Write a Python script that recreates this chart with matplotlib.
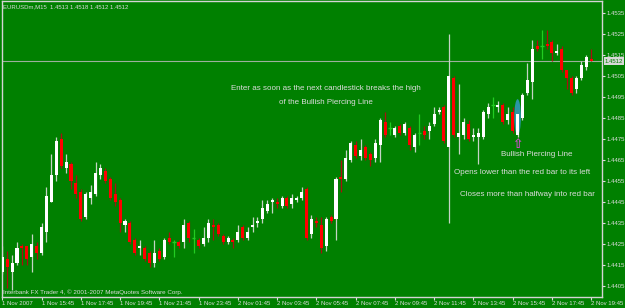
import matplotlib
matplotlib.use('Agg')
import matplotlib.pyplot as plt
from matplotlib.patches import Ellipse
from matplotlib.transforms import blended_transform_factory

plt.rcParams['font.family'] = ['Liberation Sans', 'DejaVu Sans']

# EURUSDm M15 bars, 1 Nov 13:45 .. 2 Nov 19:45
opens = [1.4412, 1.4418, 1.4412, 1.4416, 1.4424, 1.4424, 1.4419, 1.4424, 1.4421, 1.4431,
         1.4445, 1.4458, 1.4475, 1.4461, 1.4463, 1.4454, 1.4450, 1.4438, 1.4447, 1.4449,
         1.4458, 1.4460, 1.4456, 1.4449, 1.4446, 1.4434, 1.4435, 1.4427, 1.4423, 1.4423,
         1.4421, 1.4416, 1.4422, 1.4419, 1.4428, 1.4426, 1.4426, 1.4426, 1.4435, 1.4428,
         1.4427, 1.4425, 1.4428, 1.4434, 1.4434, 1.4429, 1.4426, 1.4427, 1.4427, 1.4433,
         1.4428, 1.4433, 1.4435, 1.4437, 1.4441, 1.4445, 1.4445, 1.4443, 1.4447, 1.4444,
         1.4446, 1.4447, 1.4451, 1.4430, 1.4436, 1.4434, 1.4424, 1.4438, 1.4437, 1.4457,
         1.4456, 1.4465, 1.4472, 1.4467, 1.4471, 1.4468, 1.4466, 1.4472, 1.4483, 1.4480,
         1.4477, 1.4481, 1.4478, 1.4480, 1.4471, 1.4478, 1.4479, 1.4479, 1.4482, 1.4488,
         1.4490, 1.4471, 1.4504, 1.4476, 1.4477, 1.4482, 1.4476, 1.4476, 1.4476, 1.4487,
         1.4491, 1.4490, 1.4491, 1.4484, 1.4488, 1.4477, 1.4485, 1.4497, 1.4502, 1.4519,
         1.4519, 1.4520, 1.4521, 1.4516, 1.4518, 1.4508, 1.4504, 1.4499, 1.4504, 1.4509,
         1.4513]
highs = [1.4424, 1.4422, 1.4420, 1.4426, 1.4425, 1.4424, 1.4430, 1.4426, 1.4435, 1.4452,
         1.4468, 1.4476, 1.4478, 1.4468, 1.4464, 1.4458, 1.4451, 1.4450, 1.4453, 1.4464,
         1.4463, 1.4461, 1.4457, 1.4454, 1.4447, 1.4437, 1.4436, 1.4428, 1.4427, 1.4424,
         1.4422, 1.4427, 1.4423, 1.4428, 1.4431, 1.4427, 1.4427, 1.4437, 1.4436, 1.4432,
         1.4428, 1.4433, 1.4437, 1.4437, 1.4435, 1.4430, 1.4429, 1.4428, 1.4434, 1.4434,
         1.4433, 1.4438, 1.4438, 1.4446, 1.4446, 1.4447, 1.4447, 1.4448, 1.4448, 1.4449,
         1.4448, 1.4452, 1.4452, 1.4439, 1.4438, 1.4438, 1.4438, 1.4439, 1.4457, 1.4465,
         1.4470, 1.4474, 1.4474, 1.4475, 1.4472, 1.4469, 1.4475, 1.4485, 1.4488, 1.4483,
         1.4481, 1.4482, 1.4483, 1.4481, 1.4478, 1.4487, 1.4481, 1.4483, 1.4490, 1.4490,
         1.4491, 1.4525, 1.4505, 1.4501, 1.4485, 1.4484, 1.4480, 1.4480, 1.4489, 1.4492,
         1.4495, 1.4493, 1.4492, 1.4490, 1.4490, 1.4488, 1.4497, 1.4511, 1.4522, 1.4522,
         1.4527, 1.4527, 1.4522, 1.4520, 1.4519, 1.4508, 1.4505, 1.4505, 1.4512, 1.4515,
         1.4518]
lows = [1.4411, 1.4404, 1.4403, 1.4415, 1.4415, 1.4415, 1.4412, 1.4418, 1.4420, 1.4426,
        1.4445, 1.4455, 1.4461, 1.4459, 1.4451, 1.4447, 1.4436, 1.4437, 1.4444, 1.4448,
        1.4456, 1.4454, 1.4446, 1.4443, 1.4431, 1.4431, 1.4425, 1.4420, 1.4420, 1.4417,
        1.4414, 1.4414, 1.4417, 1.4418, 1.4425, 1.4419, 1.4423, 1.4423, 1.4426, 1.4421,
        1.4423, 1.4424, 1.4426, 1.4427, 1.4429, 1.4425, 1.4425, 1.4423, 1.4426, 1.4427,
        1.4427, 1.4431, 1.4433, 1.4435, 1.4440, 1.4440, 1.4442, 1.4442, 1.4442, 1.4442,
        1.4445, 1.4446, 1.4427, 1.4428, 1.4433, 1.4421, 1.4422, 1.4435, 1.4427, 1.4450,
        1.4455, 1.4464, 1.4466, 1.4465, 1.4465, 1.4462, 1.4464, 1.4464, 1.4476, 1.4477,
        1.4476, 1.4477, 1.4477, 1.4470, 1.4469, 1.4472, 1.4475, 1.4475, 1.4481, 1.4487,
        1.4473, 1.4435, 1.4476, 1.4468, 1.4475, 1.4474, 1.4474, 1.4463, 1.4475, 1.4485,
        1.4485, 1.4488, 1.4482, 1.4482, 1.4478, 1.4476, 1.4484, 1.4496, 1.4494, 1.4517,
        1.4513, 1.4518, 1.4512, 1.4515, 1.4507, 1.4499, 1.4496, 1.4497, 1.4503, 1.4508,
        1.4512]
closes = [1.4419, 1.4414, 1.4416, 1.4423, 1.4423, 1.4418, 1.4425, 1.4421, 1.4433, 1.4448,
          1.4458, 1.4474, 1.4462, 1.4464, 1.4455, 1.4449, 1.4437, 1.4449, 1.4450, 1.4459,
          1.4461, 1.4455, 1.4447, 1.4445, 1.4435, 1.4436, 1.4426, 1.4421, 1.4424, 1.4418,
          1.4416, 1.4421, 1.4418, 1.4427, 1.4426, 1.4426, 1.4424, 1.4434, 1.4428, 1.4428,
          1.4424, 1.4428, 1.4435, 1.4433, 1.4430, 1.4426, 1.4428, 1.4426, 1.4431, 1.4428,
          1.4431, 1.4434, 1.4436, 1.4442, 1.4444, 1.4446, 1.4444, 1.4447, 1.4443, 1.4447,
          1.4447, 1.4450, 1.4428, 1.4437, 1.4435, 1.4423, 1.4437, 1.4436, 1.4456, 1.4456,
          1.4466, 1.4473, 1.4467, 1.4470, 1.4466, 1.4465, 1.4473, 1.4484, 1.4477, 1.4480,
          1.4480, 1.4478, 1.4482, 1.4472, 1.4477, 1.4478, 1.4477, 1.4481, 1.4487, 1.4489,
          1.4474, 1.4505, 1.4477, 1.4478, 1.4483, 1.4475, 1.4477, 1.4478, 1.4488, 1.4490,
          1.4491, 1.4491, 1.4483, 1.4487, 1.4479, 1.4487, 1.4496, 1.4503, 1.4518, 1.4518,
          1.4519, 1.4519, 1.4516, 1.4517, 1.4508, 1.4504, 1.4497, 1.4504, 1.4510, 1.4514,
          1.4512]

price_ticks = [1.4405, 1.4415, 1.4425, 1.4435, 1.4445, 1.4455, 1.4465,
               1.4475, 1.4485, 1.4495, 1.4505, 1.4515, 1.4525, 1.4535]
time_labels = ['1 Nov 2007', '1 Nov 15:45', '1 Nov 17:45', '1 Nov 19:45', '1 Nov 21:45',
               '1 Nov 23:45', '2 Nov 01:45', '2 Nov 03:45', '2 Nov 05:45', '2 Nov 07:45',
               '2 Nov 09:45', '2 Nov 11:45', '2 Nov 13:45', '2 Nov 15:45', '2 Nov 17:45',
               '2 Nov 19:45']
bars_per_label = 8
piercing_bar = 105

BG = '#008000'
FG = '#dcdcdc'
SMALL = 4.3

fig = plt.figure(figsize=(6.25, 3.08), dpi=100)
fig.patch.set_facecolor(BG)
ax = fig.add_axes([2 / 625, 11 / 308, 600 / 625, 296 / 308])
ax.set_facecolor(BG)

for i in range(len(opens)):
    o, h, l, c = opens[i], highs[i], lows[i], closes[i]
    if c > o:
        body, wick = 'white', '#c4d4c4'
    elif c < o:
        body, wick = '#ff0000', '#a81010'
    else:
        body, wick = '#22cc22', '#22cc22'
    ax.vlines(i, l, h, color=wick, lw=0.9, zorder=2)
    if c != o:
        ax.bar(i, abs(c - o), bottom=min(o, c), width=0.62, color=body, lw=0, zorder=3)
    else:
        ax.hlines(c, i - 0.35, i + 0.35, color=body, lw=1.0, zorder=3)

# highlight of the piercing candle
ax.add_patch(Ellipse((piercing_bar, 1.44854), 1.35, 0.00171, facecolor='#2a96a6',
                     edgecolor='none', zorder=2.5))

# bid line
ax.axhline(closes[-1], color='#9cb09c', lw=0.8, zorder=1)

ax.set_xlim(-0.06, 122.2)
ax.set_ylim(1.43999, 1.45406)

ax.yaxis.tick_right()
ax.set_yticks(price_ticks)
ax.set_yticklabels([f'{p:.4f}' for p in price_ticks])
ax.tick_params(axis='y', length=2, width=0.8, pad=1.2, labelsize=SMALL, colors=FG)
ax.set_xticks(range(0, len(opens), bars_per_label))
ax.set_xticklabels(time_labels)
ax.tick_params(axis='x', length=2, width=0.8, pad=0.8, labelsize=SMALL, colors=FG)
for lbl in ax.get_xticklabels():
    lbl.set_horizontalalignment('left')
for sp in ax.spines.values():
    sp.set_color('#d4d4d4')
    sp.set_linewidth(1)

trans = blended_transform_factory(ax.transAxes, ax.transData)
ax.text(1.0045, closes[-1], f'{closes[-1]:.4f}', transform=trans, fontsize=SMALL, color=BG,
        ha='left', va='center', clip_on=False, zorder=5,
        bbox=dict(boxstyle='square,pad=0.2', fc='#d8d8d8', ec='none'))

ax.text(piercing_bar, 1.44722, '\u21e7', color='#d24cd2', fontsize=9, fontweight='bold',
        family='DejaVu Sans', ha='center', va='center', zorder=4)

def px_text(x, y, s, size=5.8, **kw):
    fig.text(x / 625, 1 - y / 308, s, color=FG, fontsize=size, va='center', **kw)

px_text(3, 7, 'EURUSDm,M15  1.4513 1.4518 1.4512 1.4512', size=SMALL)
px_text(3, 292, 'Interbank FX Trader 4, \u00a9 2001-2007 MetaQuotes Software Corp.', size=4.5)
px_text(326, 88, 'Enter as soon as the next candlestick breaks the high', ha='center')
px_text(326, 102, 'of the Bullish Piercing Line', ha='center')
px_text(537, 154, 'Bullish Piercing Line', ha='center')
px_text(522, 172, 'Opens lower than the red bar to its left', ha='center')
px_text(527, 195, 'Closes more than halfway into red bar', ha='center')

fig.savefig('out.png', dpi=100, facecolor=BG)
